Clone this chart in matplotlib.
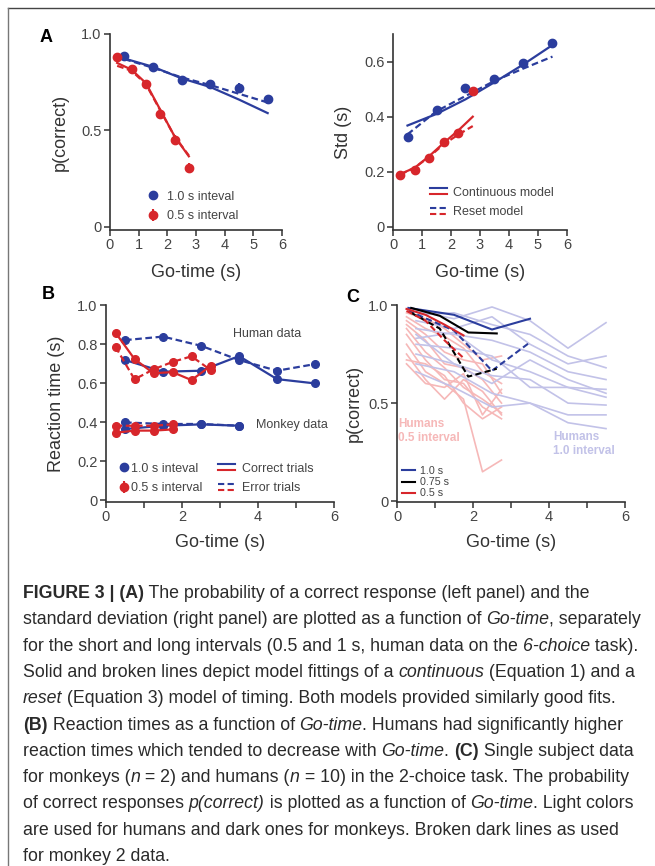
import matplotlib

matplotlib.use("Agg")
import matplotlib.pyplot as plt
from matplotlib.legend_handler import HandlerBase
from matplotlib.lines import Line2D

plt.rcParams.update(
    {
        "font.family": ["Liberation Sans", "DejaVu Sans"],
        "axes.facecolor": "white",
        "figure.facecolor": "white",
    }
)

W, H = 655, 866
BLUE = "#2b3d9d"
RED = "#d7262b"
PINK = "#f6b8b8"
LAVENDER = "#c2c2e8"
INK = "#333333"

# ---- panel A: human 6-choice task
x_long = [0.5, 1.5, 2.5, 3.5, 4.5, 5.5]
x_short = [0.25, 0.75, 1.25, 1.75, 2.25, 2.75]

pc_long = [0.888, 0.829, 0.762, 0.743, 0.720, 0.665]
pc_long_err = [0.015, 0.015, 0.02, 0.02, 0.025, 0.02]
pc_short = [0.879, 0.819, 0.739, 0.587, 0.449, 0.306]
pc_short_err = [0.015, 0.018, 0.02, 0.022, 0.025, 0.025]
pc_long_cont = [0.873, 0.830, 0.770, 0.725, 0.660, 0.590]
pc_long_reset = [0.870, 0.825, 0.775, 0.735, 0.690, 0.645]
pc_short_cont = [0.850, 0.815, 0.746, 0.608, 0.470, 0.366]
pc_short_reset = [0.835, 0.810, 0.740, 0.605, 0.470, 0.370]

std_long = [0.326, 0.424, 0.505, 0.535, 0.593, 0.667]
std_short = [0.187, 0.205, 0.250, 0.307, 0.341, 0.492]
std_long_cont = [0.368, 0.410, 0.463, 0.525, 0.590, 0.660]
std_long_reset = [0.336, 0.420, 0.475, 0.530, 0.575, 0.618]
std_short_cont = [0.192, 0.215, 0.257, 0.305, 0.350, 0.400]
std_short_reset = [0.190, 0.215, 0.255, 0.300, 0.335, 0.366]

# ---- panel B: reaction times
rt_x_long_m = [0.5, 1.5, 2.5, 3.5]
rt_x_short_m = [0.25, 0.75, 1.25, 1.75]
rt_h_long_correct = [0.718, 0.658, 0.663, 0.738, 0.620, 0.598]
rt_h_long_error = [0.820, 0.838, 0.791, 0.718, 0.663, 0.697]
rt_h_short_correct = [0.858, 0.723, 0.650, 0.656, 0.615, 0.687]
rt_h_short_error = [0.786, 0.619, 0.670, 0.708, 0.737, 0.667]
rt_m_long_correct = [0.364, 0.381, 0.388, 0.381]
rt_m_long_error = [0.398, 0.390, 0.390, 0.381]
rt_m_short_correct = [0.345, 0.356, 0.356, 0.362]
rt_m_short_error = [0.381, 0.381, 0.381, 0.388]

# ---- panel C: single subjects, 2-choice task
c_x_short = [0.25, 0.75, 1.25, 1.75, 2.25, 2.75]
c_x_long = [0.5, 1.5, 2.5, 3.5, 4.5, 5.5]
humans_short = [
    [0.96, 0.93, 0.88, 0.80, 0.72, 0.74],
    [0.94, 0.88, 0.84, 0.78, 0.66, 0.60],
    [0.92, 0.85, 0.76, 0.72, 0.70, 0.55],
    [0.90, 0.82, 0.70, 0.68, 0.62, 0.50],
    [0.88, 0.76, 0.68, 0.58, 0.52, 0.45],
    [0.85, 0.72, 0.62, 0.60, 0.48, 0.42],
    [0.80, 0.66, 0.60, 0.52, 0.15, 0.21],
    [0.75, 0.62, 0.52, 0.62, 0.56, 0.44],
    [0.72, 0.70, 0.64, 0.50, 0.42, 0.48],
    [0.70, 0.60, 0.58, 0.65, 0.44, 0.57],
]
humans_long = [
    [0.97, 0.93, 0.99, 0.92, 0.78, 0.91],
    [0.95, 0.96, 0.90, 0.85, 0.74, 0.68],
    [0.92, 0.88, 0.94, 0.80, 0.70, 0.74],
    [0.88, 0.85, 0.82, 0.76, 0.66, 0.62],
    [0.83, 0.86, 0.72, 0.66, 0.58, 0.57],
    [0.80, 0.78, 0.74, 0.58, 0.58, 0.53],
    [0.75, 0.70, 0.64, 0.62, 0.50, 0.49],
    [0.70, 0.66, 0.55, 0.50, 0.44, 0.44],
    [0.66, 0.58, 0.48, 0.50, 0.40, 0.37],
    [0.85, 0.70, 0.60, 0.72, 0.62, 0.55],
]
mk_x_10 = [0.3, 1.5, 2.5, 3.5]
mk_x_075 = [0.375, 1.125, 1.875, 2.625]
mk_x_05 = [0.25, 0.75, 1.25, 1.75]
mk1_10 = [0.985, 0.950, 0.875, 0.930]
mk2_10 = [0.970, 0.870, 0.665, 0.810]
mk1_075 = [0.985, 0.945, 0.860, 0.855]
mk2_075 = [0.960, 0.880, 0.635, 0.675]
mk1_05 = [0.980, 0.950, 0.900, 0.845]
mk2_05 = [0.970, 0.920, 0.820, 0.730]

CAPTION = [
    [("FIGURE 3 | (A)", "b"), (" The probability of a correct response (left panel) and the", "n")],
    [("standard deviation (right panel) are plotted as a function of ", "n"), ("Go-time", "i"),
     (", separately", "n")],
    [("for the short and long intervals (0.5 and 1 s, human data on the ", "n"), ("6-choice", "i"),
     (" task).", "n")],
    [("Solid and broken lines depict model fittings of a ", "n"), ("continuous", "i"),
     (" (Equation 1) and a", "n")],
    [("reset", "i"), (" (Equation 3) model of timing. Both models provided similarly good fits.", "n")],
    [("(B)", "b"), (" Reaction times as a function of ", "n"), ("Go-time", "i"),
     (". Humans had significantly higher", "n")],
    [("reaction times which tended to decrease with ", "n"), ("Go-time", "i"), (". ", "n"),
     ("(C)", "b"), (" Single subject data", "n")],
    [("for monkeys (", "n"), ("n", "i"), (" = 2) and humans (", "n"), ("n", "i"),
     (" = 10) in the 2-choice task. The probability", "n")],
    [("of correct responses ", "n"), ("p(correct)", "i"), (" is plotted as a function of ", "n"),
     ("Go-time", "i"), (". Light colors", "n")],
    [("are used for humans and dark ones for monkeys. Broken dark lines as used", "n")],
    [("for monkey 2 data.", "n")],
]


class DoubleLine(HandlerBase):
    def __init__(self, ls):
        super().__init__()
        self.ls = ls

    def create_artists(self, legend, orig, xd, yd, width, height, fontsize, trans):
        arts = []
        for frac, c in ((0.85, BLUE), (0.2, RED)):
            y = -yd + height * frac
            arts.append(Line2D([-xd, -xd + width], [y, y], color=c, lw=1.5, ls=self.ls,
                               dashes=(3, 1.6) if self.ls == "--" else (None, None),
                               transform=trans))
        return arts


def px_axes(fig, left, top, right, bottom):
    return fig.add_axes([left / W, 1 - bottom / H, (right - left) / W, (bottom - top) / H])


def style(ax):
    for s in ("top", "right"):
        ax.spines[s].set_visible(False)
    for s in ("left", "bottom"):
        ax.spines[s].set_color(INK)
        ax.spines[s].set_linewidth(1.2)
    ax.tick_params(direction="out", length=4, width=1.1, color=INK, labelcolor="#444444",
                   labelsize=10.5, pad=2)


def pline(ax, x, y, color, dashed=False, lw=1.6, **kw):
    if dashed:
        ax.plot(x, y, color=color, lw=lw, dashes=(3, 1.6), **kw)
    else:
        ax.plot(x, y, color=color, lw=lw, **kw)


fig = plt.figure(figsize=(W / 100, H / 100), dpi=100)

# frame
fig.add_artist(Line2D([8 / W, 1], [1 - 8 / H, 1 - 8 / H], color="#444444", lw=1.0))
fig.add_artist(Line2D([8 / W, 8 / W], [0, 1 - 8 / H], color="#777777", lw=1.0))

# ---- A left
ax = px_axes(fig, 110, 34, 282, 230)
style(ax)
pline(ax, x_long, pc_long_cont, BLUE)
pline(ax, x_long, pc_long_reset, BLUE, dashed=True)
pline(ax, x_short, pc_short_cont, RED)
pline(ax, x_short, pc_short_reset, RED, dashed=True)
ax.errorbar(x_long, pc_long, yerr=pc_long_err, fmt="o", color=BLUE, ms=6, elinewidth=1.5, capsize=0)
ax.errorbar(x_short, pc_short, yerr=pc_short_err, fmt="o", color=RED, ms=6, elinewidth=1.5,
            capsize=0)
ax.set_xlim(0, 6)
ax.set_ylim(-0.016, 1.0)
ax.set_xticks(range(7))
ax.set_yticks([0, 0.5, 1.0], ["0", "0.5", "1.0"])
ax.set_xlabel("Go-time (s)", fontsize=13, color=INK)
ax.set_ylabel("p(correct)", fontsize=13, color=INK)
ax.yaxis.set_label_coords(-0.24, 0.5)
ax.xaxis.set_label_coords(0.5, -0.175)
h1 = ax.errorbar([], [], fmt="o", color=BLUE, ms=6)
h2 = ax.errorbar([], [], yerr=[], fmt="o", color=RED, ms=6)
ax.legend([h1, h2], ["1.0 s inteval", "0.5 s interval"], loc="center left",
          bbox_to_anchor=(0.215, 0.12), frameon=False, fontsize=9, handlelength=1,
          handletextpad=0.6, labelspacing=0.6, borderpad=0, borderaxespad=0,
          labelcolor="#444444")

# ---- A right
ax = px_axes(fig, 393, 34, 567, 230)
style(ax)
pline(ax, x_long, std_long_cont, BLUE)
pline(ax, x_long, std_long_reset, BLUE, dashed=True)
pline(ax, x_short, std_short_cont, RED)
pline(ax, x_short, std_short_reset, RED, dashed=True)
ax.plot(x_long, std_long, "o", color=BLUE, ms=6)
ax.plot(x_short, std_short, "o", color=RED, ms=6)
ax.set_xlim(0, 6)
ax.set_ylim(-0.011, 0.7)
ax.set_xticks(range(7))
ax.set_yticks([0, 0.2, 0.4, 0.6], ["0", "0.2", "0.4", "0.6"])
ax.set_xlabel("Go-time (s)", fontsize=13, color=INK)
ax.set_ylabel("Std (s)", fontsize=13, color=INK)
ax.yaxis.set_label_coords(-0.235, 0.5)
ax.xaxis.set_label_coords(0.5, -0.175)
k1, k2 = Line2D([], []), Line2D([], [])
ax.legend([k1, k2], ["Continuous model", "Reset model"], loc="center left",
          bbox_to_anchor=(0.213, 0.14), frameon=False, fontsize=9, handlelength=1.36,
          handletextpad=0.45, labelspacing=0.6, borderpad=0, borderaxespad=0,
          handler_map={k1: DoubleLine("-"), k2: DoubleLine("--")}, labelcolor="#444444")

# ---- B
ax = px_axes(fig, 106, 305, 334, 502)
style(ax)
pline(ax, x_long, rt_h_long_correct, BLUE, marker="o", ms=5.5)
pline(ax, x_long, rt_h_long_error, BLUE, dashed=True, marker="o", ms=5.5)
pline(ax, x_short, rt_h_short_correct, RED, marker="o", ms=5.5)
pline(ax, x_short, rt_h_short_error, RED, dashed=True, marker="o", ms=5.5)
pline(ax, rt_x_long_m, rt_m_long_error, BLUE, dashed=True, marker="o", ms=5.5)
pline(ax, rt_x_long_m, rt_m_long_correct, BLUE, marker="o", ms=5.5)
pline(ax, rt_x_short_m, rt_m_short_error, RED, dashed=True, marker="o", ms=5.5)
pline(ax, rt_x_short_m, rt_m_short_correct, RED, marker="o", ms=5.5)
ax.text(3.35, 0.85, "Human data", fontsize=9, color="#444444", va="center")
ax.text(3.95, 0.385, "Monkey data", fontsize=9, color="#444444", va="center")
ax.set_xlim(0, 6)
ax.set_ylim(-0.01, 1.0)
ax.set_xticks(range(7), ["0", "", "2", "", "4", "", "6"])
ax.set_yticks([0, 0.2, 0.4, 0.6, 0.8, 1.0], ["0", "0.2", "0.4", "0.6", "0.8", "1.0"])
ax.set_xlabel("Go-time (s)", fontsize=13, color=INK)
ax.set_ylabel("Reaction time (s)", fontsize=13, color=INK)
ax.yaxis.set_label_coords(-0.18, 0.5)
ax.xaxis.set_label_coords(0.5, -0.16)
m1 = ax.errorbar([], [], fmt="o", color=BLUE, ms=6)
m2 = ax.errorbar([], [], yerr=[], fmt="o", color=RED, ms=6)
leg = ax.legend([m1, m2], ["1.0 s inteval", "0.5 s interval"], loc="center left",
                bbox_to_anchor=(0.061, 0.119), frameon=False, fontsize=9, handlelength=0.6,
                handletextpad=0.3, labelspacing=0.6, borderpad=0, borderaxespad=0,
                labelcolor="#444444")
ax.add_artist(leg)
k3, k4 = Line2D([], []), Line2D([], [])
ax.legend([k3, k4], ["Correct trials", "Error trials"], loc="center left",
          bbox_to_anchor=(0.491, 0.119), frameon=False, fontsize=9, handlelength=1.36,
          handletextpad=0.56, labelspacing=0.6, borderpad=0, borderaxespad=0,
          handler_map={k3: DoubleLine("-"), k4: DoubleLine("--")}, labelcolor="#444444")

# ---- C
ax = px_axes(fig, 397, 305, 625, 502)
style(ax)
for ys in humans_short:
    ax.plot(c_x_short, ys, color=PINK, lw=1.2)
for ys in humans_long:
    ax.plot(c_x_long, ys, color=LAVENDER, lw=1.2)
pline(ax, mk_x_10, mk2_10, BLUE, dashed=True, lw=1.5)
pline(ax, mk_x_075, mk2_075, "black", dashed=True, lw=1.5)
pline(ax, mk_x_05, mk2_05, RED, dashed=True, lw=1.5)
c1, = ax.plot(mk_x_10, mk1_10, color=BLUE, lw=1.5)
c2, = ax.plot(mk_x_075, mk1_075, color="black", lw=1.5)
c3, = ax.plot(mk_x_05, mk1_05, color=RED, lw=1.5)
ax.text(0.03, 0.356, "Humans\n0.5 interval", fontsize=8.5, fontweight="bold", color=PINK,
        va="center", linespacing=1.25)
ax.text(4.1, 0.29, "Humans\n1.0 interval", fontsize=8.5, fontweight="bold", color=LAVENDER,
        va="center", linespacing=1.25)
ax.set_xlim(0, 6)
ax.set_ylim(-0.004, 1.0)
ax.set_xticks(range(7), ["0", "", "2", "", "4", "", "6"])
ax.set_yticks([0, 0.5, 1.0], ["0", "0.5", "1.0"])
ax.set_xlabel("Go-time (s)", fontsize=13, color=INK)
ax.set_ylabel("p(correct)", fontsize=13, color=INK)
ax.yaxis.set_label_coords(-0.15, 0.5)
ax.xaxis.set_label_coords(0.5, -0.16)
ax.legend([c1, c2, c3], ["1.0 s", "0.75 s", "0.5 s"], loc="center left",
          bbox_to_anchor=(0.022, 0.10), frameon=False, fontsize=7.7, handlelength=1.2,
          handletextpad=0.45, labelspacing=0.1, borderpad=0, borderaxespad=0,
          labelcolor="#444444")

# panel letters
for letter, lx, ly in (("A", 40, 42), ("B", 42, 299), ("C", 346, 302)):
    fig.text(lx / W, 1 - ly / H, letter, fontsize=13, fontweight="bold", va="baseline")

# caption, drawn segment by segment; font size fitted to the reference line width
renderer = fig.canvas.get_renderer()
CAP_COLOR = "#2a2a2a"
cap_size = 11.0


def seg_props(st):
    return dict(fontsize=cap_size, fontweight="bold" if st == "b" else "normal",
                fontstyle="italic" if st == "i" else "normal")


def seg_width(s, st):
    a = fig.text(0, 0, "|" + s + "|", **seg_props(st))
    b = fig.text(0, 0, "||", **seg_props(st))
    w = a.get_window_extent(renderer).width - b.get_window_extent(renderer).width
    a.remove()
    b.remove()
    return w


probe = sum(seg_width(s, st) for s, st in CAPTION[1])
cap_size = 11.0 * 617.0 / probe

for i, segs in enumerate(CAPTION):
    x = 23.0
    y = 598 + i * 26.3
    for s, st in segs:
        fig.text(x / W, 1 - y / H, s, va="baseline", color=CAP_COLOR, **seg_props(st))
        x += seg_width(s, st)

fig.savefig("out.png", dpi=100, facecolor="white")
